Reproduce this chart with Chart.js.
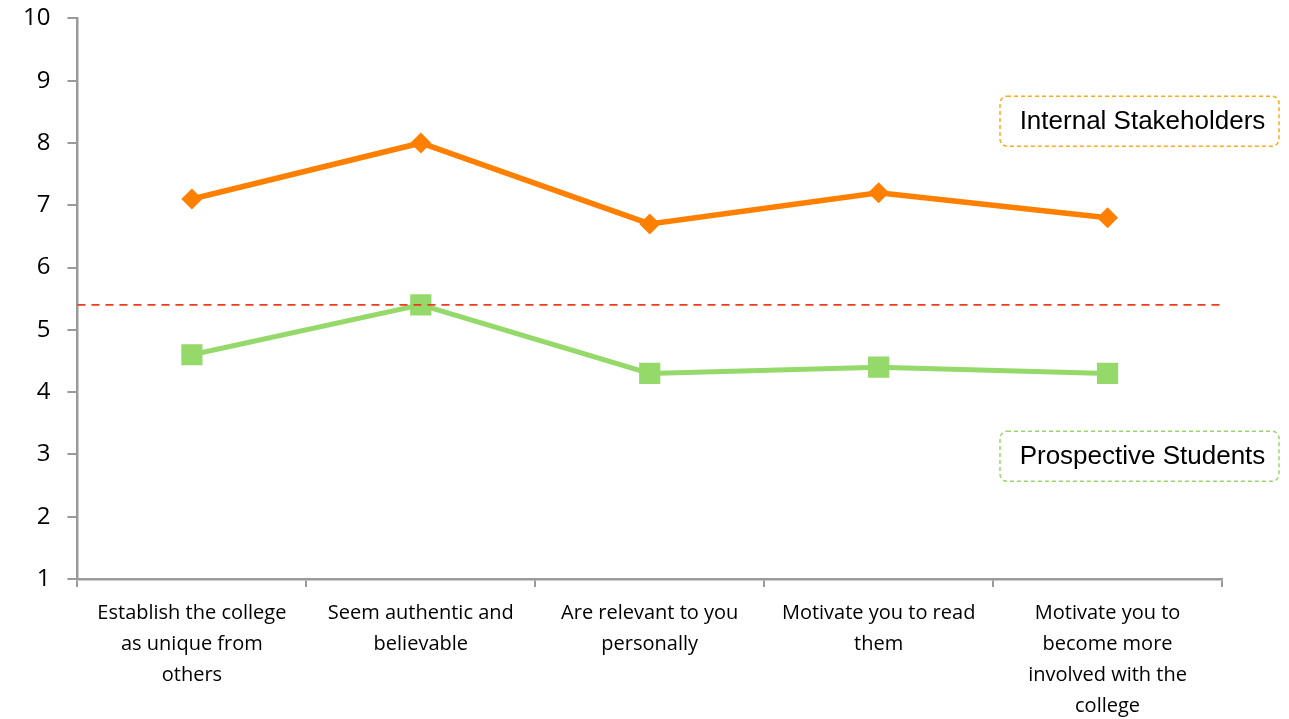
<!DOCTYPE html>
<html lang="en">
<head>
  <meta charset="UTF-8" />
  <title>Ratings chart</title>
  <script src="https://cdn.jsdelivr.net/npm/chart.js"></script>
  <style>
    * { margin: 0; padding: 0; box-sizing: border-box; }
    body { background: #fff; overflow: hidden; }
    .chart-box { position: relative; width: 1289px; height: 746px; margin-top: -13px; }
  </style>
</head>
<body>
  <div class="chart-box">
    <canvas id="chart"></canvas>
  </div>

  <script>
    const categories = [
      ['Establish the college', 'as unique from', 'others'],
      ['Seem authentic and', 'believable'],
      ['Are relevant to you', 'personally'],
      ['Motivate you to read', 'them'],
      ['Motivate you to', 'become more', 'involved with the', 'college']
    ];
    const internalStakeholders = [7.1, 8.0, 6.7, 7.2, 6.8];
    const prospectiveStudents = [4.6, 5.4, 4.3, 4.4, 4.3];
    const referenceLine = [5.4];
    const yTicks = [1, 2, 3, 4, 5, 6, 7, 8, 9, 10];
    // series name boxes: [text, y value of centre, border colour]
    const seriesLabels = [
      ['Internal Stakeholders', 8.35, '#fbaa1c'],
      ['Prospective Students', 2.97, '#98d66c']
    ];

    const ORANGE = '#ff8000';
    const GREEN = '#95d96a';
    const AXIS = '#9a9a9a';

    const extras = {
      id: 'extras',
      afterDatasetsDraw(chart) {
        const { ctx, chartArea, scales } = chart;
        // dashed reference line across the plot
        const y = scales.y.getPixelForValue(referenceLine[0]);
        ctx.save();
        ctx.strokeStyle = '#ee3b1c';
        ctx.lineWidth = 1.8;
        ctx.setLineDash([8, 6]);
        ctx.beginPath();
        ctx.moveTo(chartArea.left, y);
        ctx.lineTo(chartArea.right + 2, y);
        ctx.stroke();
        ctx.restore();
      },
      afterDraw(chart) {
        const { ctx, scales } = chart;
        ctx.save();
        seriesLabels.forEach(([text, val, col]) => {
          const cy = scales.y.getPixelForValue(val);
          const x = 1000, w = 279, h = 50;
          ctx.beginPath();
          ctx.roundRect(x, cy - h / 2, w, h, 7);
          ctx.fillStyle = '#fff';
          ctx.fill();
          ctx.strokeStyle = col;
          ctx.lineWidth = 1.5;
          ctx.setLineDash([4, 3]);
          ctx.stroke();
          ctx.setLineDash([]);
          ctx.fillStyle = '#000';
          ctx.font = '26px "Liberation Sans", Arial, sans-serif';
          ctx.textAlign = 'center';
          ctx.textBaseline = 'middle';
          ctx.fillText(text, x + w / 2 + 3, cy + 1);
        });
        ctx.restore();
      }
    };

    new Chart(document.getElementById('chart'), {
      type: 'line',
      data: {
        labels: categories,
        datasets: [
          {
            label: 'Internal Stakeholders',
            data: internalStakeholders,
            borderColor: ORANGE,
            backgroundColor: ORANGE,
            borderWidth: 5.5,
            pointStyle: 'rectRot',
            pointRadius: 10.5,
            pointBorderWidth: 0,
            tension: 0
          },
          {
            label: 'Prospective Students',
            data: prospectiveStudents,
            borderColor: GREEN,
            backgroundColor: GREEN,
            borderWidth: 5,
            pointStyle: 'rect',
            pointRadius: 15,
            pointBorderWidth: 0,
            tension: 0
          }
        ]
      },
      plugins: [extras],
      options: {
        responsive: true,
        maintainAspectRatio: false,
        animation: false,
        layout: { padding: { top: 2, right: 67, left: 6, bottom: 0 } },
        plugins: {
          legend: { display: false },
          tooltip: { enabled: false }
        },
        scales: {
          x: {
            offset: true,
            grid: {
              offset: true,
              drawOnChartArea: false,
              color: AXIS,
              lineWidth: 2,
              tickLength: 8
            },
            border: { color: AXIS, width: 2.5 },
            ticks: {
              color: '#000',
              font: { family: '"Open Sans", sans-serif', size: 20, lineHeight: 1.55 },
              maxRotation: 0,
              autoSkip: false,
              padding: 11
            }
          },
          y: {
            min: 1,
            max: 10,
            afterBuildTicks: axis => { axis.ticks = yTicks.map(v => ({ value: v })); },
            grid: {
              drawOnChartArea: false,
              color: AXIS,
              lineWidth: 2,
              tickLength: 10
            },
            border: { color: AXIS, width: 2.5 },
            ticks: {
              color: '#000',
              font: { family: '"Open Sans", sans-serif', size: 24 },
              padding: 17
            }
          }
        }
      }
    });
  </script>
</body>
</html>
